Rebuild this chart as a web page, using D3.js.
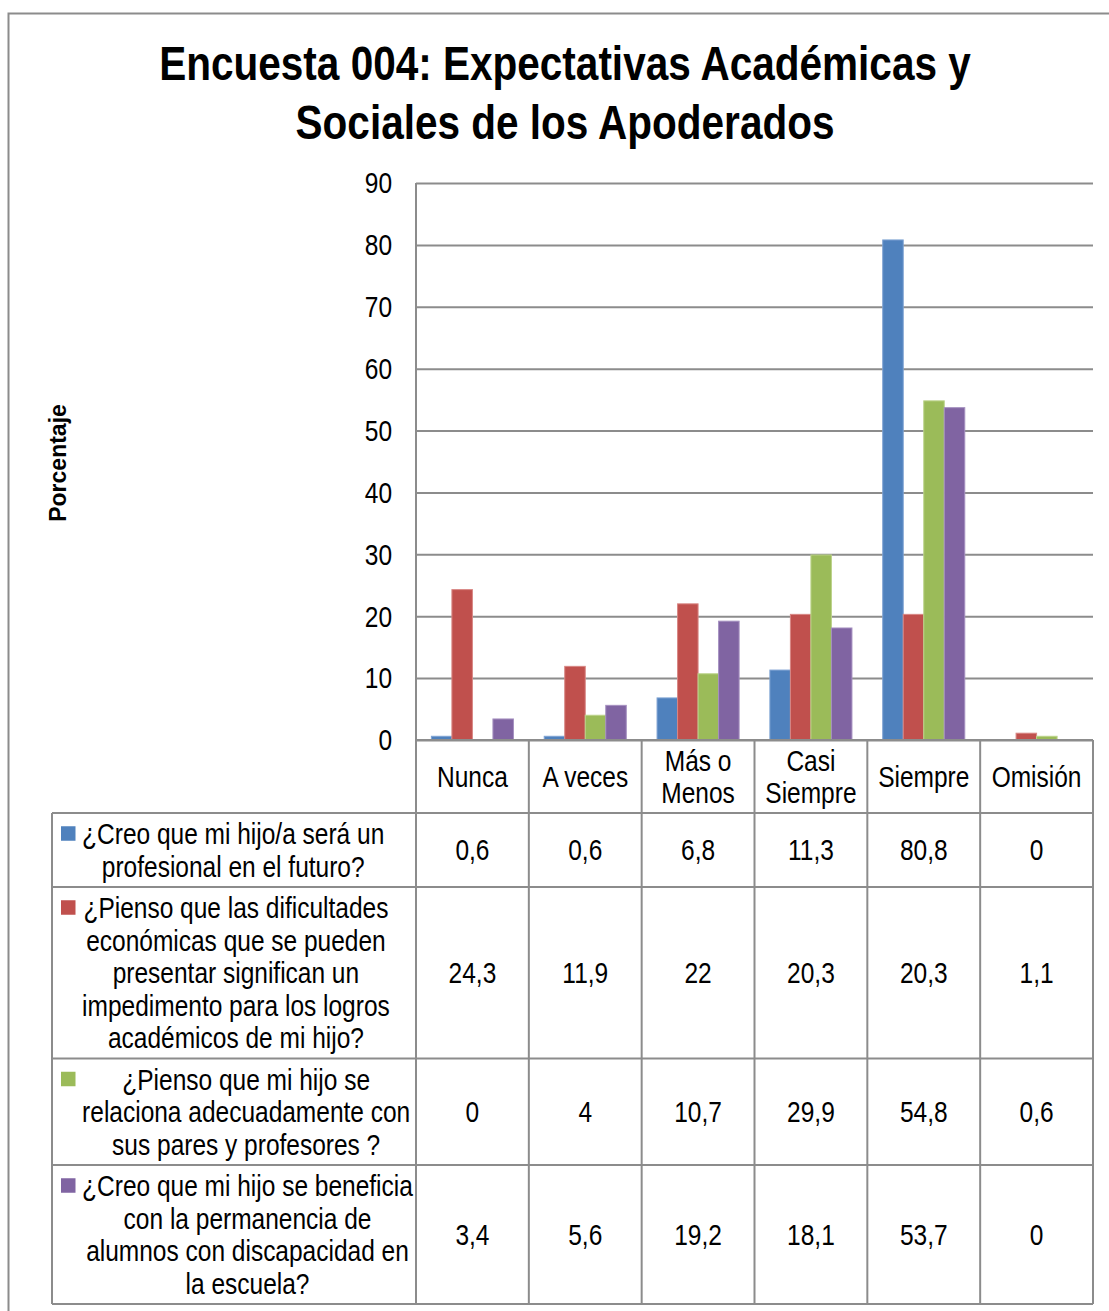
<!DOCTYPE html>
<html><head><meta charset="utf-8">
<script src="https://cdn.jsdelivr.net/npm/d3@7"></script>
<style>body{margin:0;background:#fff}svg{display:block}</style>
</head><body>
<script>
// ---- data ----
const title = ["Encuesta 004: Expectativas Académicas y", "Sociales de los Apoderados"];
const yAxisLabel = "Porcentaje";
const categories = ["Nunca", "A veces", "Más o Menos", "Casi Siempre", "Siempre", "Omisión"];
const yTicks = [0, 10, 20, 30, 40, 50, 60, 70, 80, 90];
const seriesNames = [
  ["¿Creo que mi hijo/a será un", "profesional en el futuro?"],
  ["¿Pienso que las dificultades", "económicas que se pueden", "presentar significan un", "impedimento para los logros", "académicos de mi hijo?"],
  ["¿Pienso que mi hijo se", "relaciona adecuadamente con", "sus pares y profesores ?"],
  ["¿Creo que mi hijo se beneficia", "con la permanencia de", "alumnos con discapacidad en", "la escuela?"]
];
const s1 = [0.6, 0.6, 6.8, 11.3, 80.8, 0];
const s2 = [24.3, 11.9, 22, 20.3, 20.3, 1.1];
const s3 = [0, 4, 10.7, 29.9, 54.8, 0.6];
const s4 = [3.4, 5.6, 19.2, 18.1, 53.7, 0];
const seriesValues = [s1, s2, s3, s4];
const colors = ["#4F81BD", "#C0504D", "#9BBB59", "#8064A2"];
const strokes = ["#7FA3D3", "#D88784", "#BCD38B", "#A590C0"];

// ---- layout ----
const W = 1109, H = 1311;
const FONT = "'Liberation Sans', Arial, sans-serif";
const SX = 0.845;          // horizontal condensing of the body text
const SXT = 0.827;         // horizontal condensing of the title
const FS = 29;
const plotL = 416, plotR = 1093, plotT = 183, plotB = 740;
const tableL = 52;
const lineH = 32.5;
const gridC = "#8C8C8C";

const svg = d3.select("body").append("svg").attr("width", W).attr("height", H);

function place(sel, xf, yf, sx = SX) {
  sel.attr("transform", function (d, i) {
    const xv = typeof xf === "function" ? xf.call(this, d, i) : xf;
    const yv = typeof yf === "function" ? yf.call(this, d, i) : yf;
    return `translate(${xv},${yv}) scale(${sx},1)`;
  });
  return sel;
}

// outer border
svg.append("path").attr("d", `M8.5,${H + 2}V13.5H${W + 2}`).attr("fill", "none")
  .attr("stroke", "#8C8C8C").attr("stroke-width", 2);

// title
place(svg.append("g").selectAll("text").data(title).join("text")
  .attr("text-anchor", "middle").attr("font-family", FONT)
  .attr("font-weight", "bold").attr("font-size", 49).attr("fill", "#000").text(d => d),
  565, (d, i) => 80 + i * 59, SXT);

// y axis label
svg.append("text").attr("transform", "translate(66,463) rotate(-90)")
  .attr("text-anchor", "middle").attr("font-family", FONT)
  .attr("font-weight", "bold").attr("font-size", 23).text(yAxisLabel);

// scales
const x = d3.scaleBand().domain(categories).range([plotL, plotR]).padding(0);
const xs = d3.scaleBand().domain(d3.range(seriesValues.length)).range([0, x.bandwidth()])
  .paddingInner(0).paddingOuter(0.75);
const y = d3.scaleLinear().domain([0, 90]).range([plotB, plotT]);

// y axis with gridlines
const yAxis = svg.append("g").attr("transform", `translate(${plotL},0)`)
  .call(d3.axisLeft(y).tickValues(yTicks).tickSize(-(plotR - plotL)).tickPadding(24));
yAxis.select(".domain").remove();
yAxis.selectAll(".tick line").attr("stroke", gridC).attr("stroke-width", 2);
yAxis.selectAll(".tick text").attr("font-family", FONT).attr("font-size", FS).attr("fill", "#000")
  .attr("x", null).attr("dy", "0.34em").attr("transform", `translate(-24,0) scale(${SX},1)`);

// bars
const gBars = svg.append("g");
seriesValues.forEach((vals, si) => {
  gBars.append("g").selectAll("rect").data(vals.map((v, i) => ({ v, c: categories[i] })).filter(d => d.v > 0))
    .join("rect")
    .attr("x", d => x(d.c) + xs(si))
    .attr("width", xs.bandwidth())
    .attr("y", d => y(d.v))
    .attr("height", d => y(0) - y(d.v))
    .attr("fill", colors[si]).attr("stroke", strokes[si]).attr("stroke-width", 1);
});

// table
const g = svg.append("g");
const headerTop = plotB, headerH = 2 * lineH + 8;
const rowTops = [];
let yy = headerTop + headerH;
seriesNames.forEach(lines => { rowTops.push(yy); yy += lines.length * lineH + 9; });
const tableB = yy;

function wrapLines(text, maxW, size) {
  const tmp = svg.append("text").attr("font-family", FONT).attr("font-size", size);
  const words = text.split(" ");
  const out = []; let cur = "";
  words.forEach(w => {
    const t = cur ? cur + " " + w : w;
    tmp.text(t);
    if (tmp.node().getComputedTextLength() * SX > maxW && cur) { out.push(cur); cur = w; } else cur = t;
  });
  out.push(cur); tmp.remove();
  return out;
}
categories.forEach(c => {
  const lines = wrapLines(c, x.bandwidth() - 10, FS);
  const cy = headerTop + headerH / 2;
  place(g.append("g").selectAll("text").data(lines).join("text")
    .attr("dy", "0.36em").attr("text-anchor", "middle")
    .attr("font-family", FONT).attr("font-size", FS).text(d => d),
    x(c) + x.bandwidth() / 2, (d, i) => cy + (i - (lines.length - 1) / 2) * lineH);
});

// series rows
seriesNames.forEach((lines, si) => {
  const top = rowTops[si];
  const h = lines.length * lineH + 9;
  const cy = top + h / 2;
  const tg = g.append("g");
  const texts = tg.selectAll("text").data(lines).join("text")
    .attr("dy", "0.36em").attr("text-anchor", "middle")
    .attr("font-family", FONT).attr("font-size", FS).text(d => d);
  let maxW = 0; texts.each(function () { maxW = Math.max(maxW, this.getComputedTextLength() * SX); });
  place(texts, 82 + maxW / 2, (d, i) => cy + (i - (lines.length - 1) / 2) * lineH);
  const firstY = cy - (lines.length - 1) / 2 * lineH;
  tg.append("rect").attr("x", 61).attr("y", firstY - 7.5).attr("width", 14.5).attr("height", 14.5)
    .attr("fill", colors[si]);
  // values
  place(g.append("g").selectAll("text").data(seriesValues[si]).join("text")
    .attr("dy", "0.36em").attr("text-anchor", "middle")
    .attr("font-family", FONT).attr("font-size", FS)
    .text(d => String(d).replace(".", ",")),
    (d, i) => x(categories[i]) + x.bandwidth() / 2, cy);
});

// table lines
const lg = svg.append("g").attr("stroke", gridC).attr("stroke-width", 2).attr("fill", "none");
lg.append("line").attr("x1", plotL).attr("x2", plotR).attr("y1", plotB).attr("y2", plotB);
rowTops.concat([tableB]).forEach(t => {
  lg.append("line").attr("x1", tableL).attr("x2", plotR).attr("y1", t).attr("y2", t);
});
lg.append("line").attr("x1", plotL).attr("x2", plotL).attr("y1", plotT).attr("y2", tableB);
categories.forEach(c => {
  const xe = x(c) + x.bandwidth();
  lg.append("line").attr("x1", xe).attr("x2", xe).attr("y1", plotB).attr("y2", tableB);
});
lg.append("line").attr("x1", tableL).attr("x2", tableL).attr("y1", rowTops[0]).attr("y2", tableB);
</script>
</body></html>
